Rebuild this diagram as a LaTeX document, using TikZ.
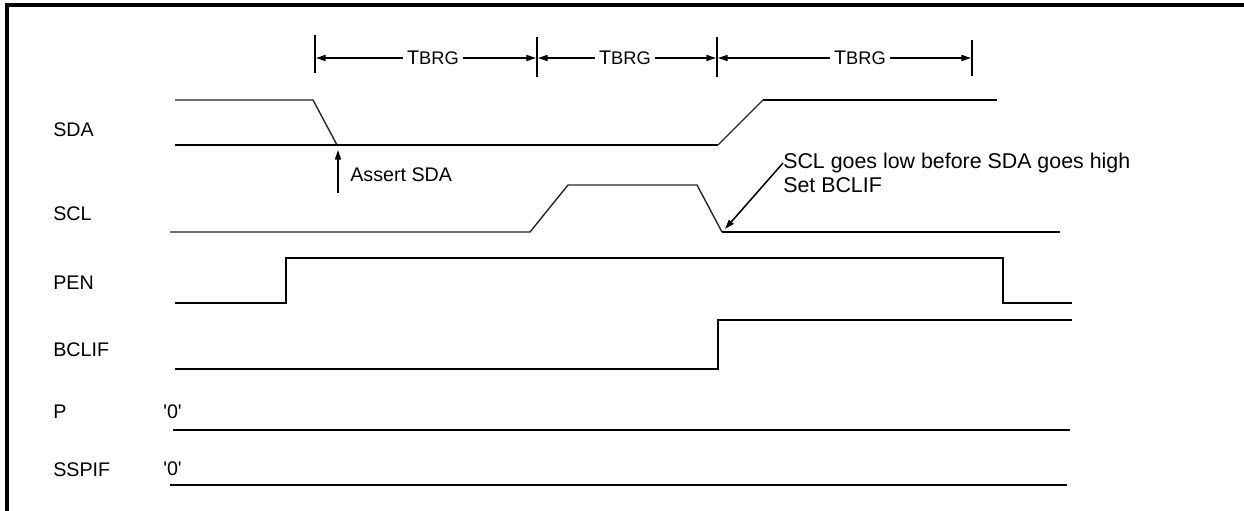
\documentclass[tikz,border=0pt]{standalone}
\usepackage{fontspec}
\setmainfont{Liberation Sans}
\usetikzlibrary{
    arrows.meta,
    positioning
}
\tikzset{
  sig/.style     = {line width=1.9pt, black, line join=miter},
  edge/.style    = {line width=1.0pt, black!85},
  tick/.style    = {line width=1.1pt, black},
  frame/.style   = {line width=2.2pt, black},
  tarr/.style    = {-{Triangle[length=2.4mm,width=1.5mm]}, line width=1.1pt, black},
  txt/.style     = {font=\fontsize{14}{15}\selectfont, inner sep=0pt}
}

\begin{document}
\begin{tikzpicture}[
    x=0.025cm, y=-0.025cm,
    lbl/.style={txt, anchor=west},
    brg/.style={txt, inner sep=3pt},
    note/.style={lbl, font=\fontsize{15.2}{16}\selectfont}
  ]
    \useasboundingbox (0,0) rectangle (1244,511);
    \draw[frame] (7,511) -- (7,5) -- (1244,5);

    \draw[tick] (315,35) -- (315,73);
    \draw[tick] (537,37) -- (537,77);
    \draw[tick] (717,37) -- (717,77);
    \draw[tick] (972,40) -- (972,76);
    \coordinate (t0) at (316,58);
    \coordinate (t1) at (536,58);
    \coordinate (t1b) at (538,58);
    \coordinate (t2) at (716,58);
    \coordinate (t2b) at (718,58);
    \coordinate (t3) at (971,58);

    \node[brg] (brg1) at (433,58) {T{\fontsize{13}{14}\selectfont BRG}};
    \node[brg] (brg2) at (625,58) {T{\fontsize{13}{14}\selectfont BRG}};
    \node[brg] (brg3) at (860,58) {T{\fontsize{13}{14}\selectfont BRG}};
    \draw[tarr] (brg1) -- (t0);
    \draw[tarr] (brg1) -- (t1);
    \draw[tarr] (brg2) -- (t1b);
    \draw[tarr] (brg2) -- (t2);
    \draw[tarr] (brg3) -- (t2b);
    \draw[tarr] (brg3) -- (t3);

    \node[lbl] (sda) at (53,130) {SDA};
    \node[lbl] (scl) at (53,214) {SCL};
    \node[lbl] (pen) at (53,283) {PEN};
    \node[lbl] (bclif) at (53,350) {BCLIF};
    \node[lbl] (p) at (53,412) {P};
    \node[lbl] (sspif) at (53,470) {SSPIF};

    \draw[edge] (175,100) -- (313,100) -- (337,145);
    \draw[sig] (175,145) -- (718,145);
    \draw[edge] (718,145) -- (763,100);
    \draw[sig] (763,100) -- (997,100);

    \coordinate (sdafall) at (338,150);
    \coordinate (asserttail) at (338,193);
    \draw[tarr] (asserttail) -- (sdafall);
    \node[lbl] (assert) at (350,175) {Assert SDA};

    \draw[edge] (170,232) -- (530,232) -- (568,185) -- (697,185) -- (722,232);
    \draw[sig] (722,232) -- (1060,232);

    \node[note] (note1) at (783,163) {SCL goes low before SDA goes high};
    \node[note, below=3pt of note1.south west, anchor=north west] (note2) {Set BCLIF};
    \coordinate (sclfall) at (725,229);
    \draw[tarr] (note1.west) -- (sclfall);

    \draw[sig] (175,303) -- (286,303) -- (286,258) -- (1003,258) -- (1003,303) -- (1072,303);
    \draw[sig] (175,369) -- (718,369) -- (718,320) -- (1072,320);

    \node[lbl] (pzero) at (163,412) {\textquotesingle0\textquotesingle};
    \draw[sig] (173,430) -- (1070,430);
    \node[lbl] (sspifzero) at (163,469) {\textquotesingle0\textquotesingle};
    \draw[sig] (170,485) -- (1067,485);
  \end{tikzpicture}
\end{document}
